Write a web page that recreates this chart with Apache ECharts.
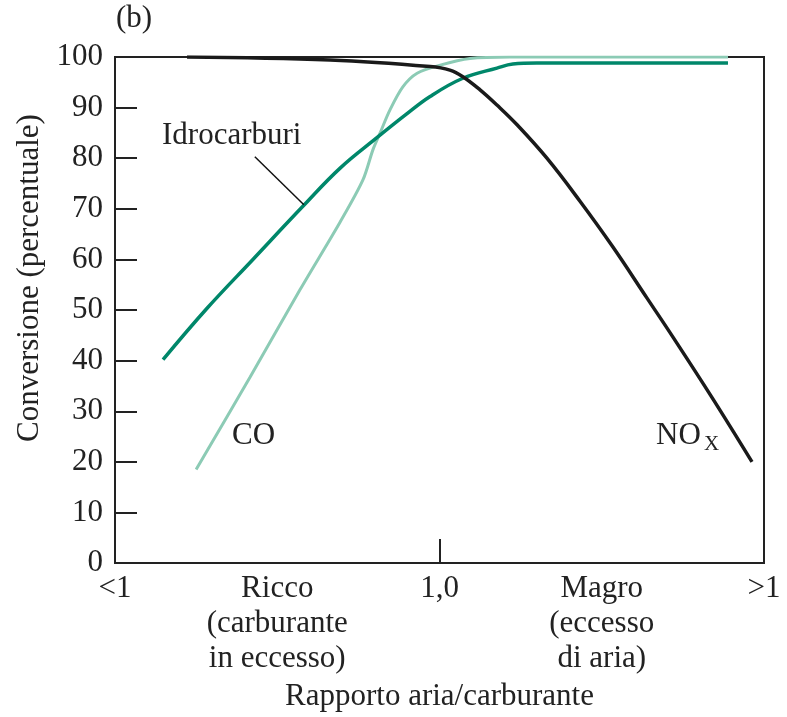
<!DOCTYPE html>
<html style="height: 100%">
  <head>
    <meta charset="utf-8" />
  </head>
  <body style="height: 100%; margin: 0; background: #fff">
    <div id="main" style="width: 787px; height: 717px"></div>
    <script type="text/javascript" src="https://cdn.jsdelivr.net/npm/echarts@6/dist/echarts.min.js"></script>
    <script type="text/javascript">
      // asse x: 0 = "<1", 1 = "1,0" (stechiometrico), 2 = ">1"
      let xTickLabels = ["<1", "Ricco\n(carburante\nin eccesso)", "1,0", "Magro\n(eccesso\ndi aria)", ">1"]
      let yTicks = [0, 10, 20, 30, 40, 50, 60, 70, 80, 90, 100]

      // Idrocarburi
      let hcX = [0.148, 0.283, 0.425, 0.579, 0.693, 0.81, 0.894, 0.971, 1.072, 1.177, 1.226, 1.30, 1.889]
      let hcY = [40.2, 50.3, 60.0, 70.5, 78.0, 84.2, 88.5, 92.2, 95.8, 97.8, 98.6, 98.8, 98.8]
      // CO
      let coX = [0.250, 0.416, 0.570, 0.693, 0.764, 0.795, 0.817, 0.847, 0.887, 0.931, 1.002, 1.094, 1.217, 1.889]
      let coY = [18.5, 36.7, 54.0, 67.3, 75.7, 81.7, 85.0, 89.5, 94.1, 96.8, 98.4, 99.7, 100, 100]
      // NOx
      let noxX = [0.222, 0.663, 0.971, 1.032, 1.072, 1.125, 1.177, 1.239, 1.331, 1.433, 1.535, 1.639, 1.720, 1.840, 1.963]
      let noxY = [100, 99.4, 98.1, 97.4, 96.1, 93.5, 90.5, 86.6, 80.0, 71.5, 62.4, 52.4, 44.6, 32.7, 20.0]

      function zip(xs, ys) {
        return xs.map(function (x, i) { return [x, ys[i]] })
      }

      var font = "Liberation Serif"
      var fs = 31
      var myChart = echarts.init(document.getElementById("main"))

      var option = {
        animation: false,
        grid: {
          left: 115,
          right: 23,
          top: 57,
          bottom: 153,
          show: true,
          borderColor: "#222",
          borderWidth: 2,
        },
        xAxis: {
          type: "value",
          min: 0,
          max: 2,
          interval: 0.5,
          axisLine: { show: false },
          splitLine: { show: false },
          axisTick: {
            show: true,
            inside: true,
            length: 24,
            customValues: [1],
            lineStyle: { color: "#222", width: 2 },
          },
          axisLabel: {
            margin: 8,
            color: "#222",
            fontFamily: font,
            fontSize: fs,
            lineHeight: 35,
            verticalAlign: "top",
            formatter: function (v) {
              return xTickLabels[Math.round(v * 2)]
            },
          },
          name: "Rapporto aria/carburante",
          nameLocation: "middle",
          nameGap: 116,
          nameTextStyle: { color: "#222", fontFamily: font, fontSize: fs },
        },
        yAxis: {
          type: "value",
          min: 0,
          max: 100,
          interval: 10,
          axisLine: { show: false },
          splitLine: { show: false },
          axisTick: {
            show: true,
            inside: true,
            length: 22,
            lineStyle: { color: "#222", width: 2 },
          },
          axisLabel: {
            margin: 12,
            color: "#222",
            fontFamily: font,
            fontSize: fs,
            formatter: function (v) {
              return yTicks.indexOf(v) >= 0 ? String(v) : ""
            },
          },
          name: "Conversione (percentuale)",
          nameLocation: "middle",
          nameGap: 68,
          nameTextStyle: { color: "#222", fontFamily: font, fontSize: fs, padding: [0, 0, 0, 64] },
        },
        series: [
          {
            name: "Idrocarburi",
            type: "line",
            smooth: 0.4,
            symbol: "none",
            z: 3,
            lineStyle: { color: "#00876a", width: 3.5 },
            data: zip(hcX, hcY),
            markLine: {
              silent: true,
              symbol: "none",
              label: { show: false },
              lineStyle: { color: "#111", width: 1.5, type: "solid" },
              data: [[{ coord: [0.431, 80.3] }, { coord: [0.582, 70.8] }]],
            },
          },
          {
            name: "CO",
            type: "line",
            smooth: 0.3,
            symbol: "none",
            z: 2,
            lineStyle: { color: "#8ccbb5", width: 3 },
            data: zip(coX, coY),
          },
          {
            name: "NOx",
            type: "line",
            smooth: 0.4,
            symbol: "none",
            z: 4,
            lineStyle: { color: "#1a1a1a", width: 3.5 },
            data: zip(noxX, noxY),
          },
        ],
        graphic: [
          { type: "text", left: 116, top: 3, style: { text: "(b)", fontFamily: font, fontSize: fs, fill: "#222" } },
          { type: "text", left: 162, top: 120, style: { text: "Idrocarburi", fontFamily: font, fontSize: fs, fill: "#222" } },
          { type: "text", left: 232, top: 420, style: { text: "CO", fontFamily: font, fontSize: fs, fill: "#222" } },
          { type: "text", left: 656, top: 420, style: { text: "NO", fontFamily: font, fontSize: fs, fill: "#222" } },
          { type: "text", left: 704, top: 434, style: { text: "X", fontFamily: font, fontSize: 21, fill: "#222" } },
        ],
      }

      myChart.setOption(option)
    </script>
  </body>
</html>
